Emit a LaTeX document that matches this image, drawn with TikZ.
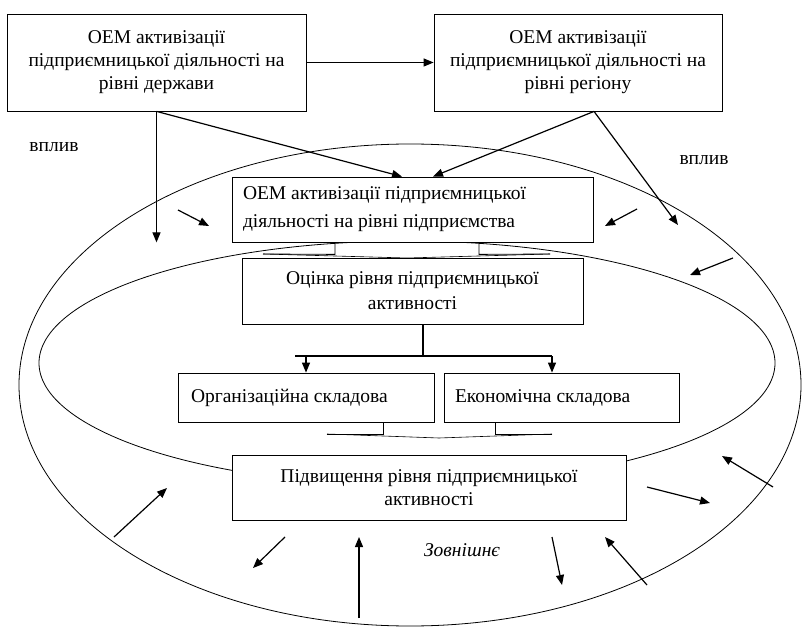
\documentclass[tikz,border=0pt]{standalone}
\usepackage{fontspec}
\setmainfont{Liberation Serif}
\usetikzlibrary{arrows.meta}
\begin{document}
\begin{tikzpicture}[x=1pt,y=-1pt,
  box/.style={draw, line width=0.8pt, fill=white, inner sep=0pt},
  txt/.style={font=\fontsize{19.5}{23}\selectfont},
  arr/.style={line width=1.2pt, -{Triangle[length=10pt,width=8pt]}},
  ln/.style={line width=1.2pt},
  ell/.style={line width=0.8pt},
  brace/.style={line width=0.8pt},
  thinl/.style={line width=0.6pt}]
\useasboundingbox (0,0) rectangle (803,628);
% ellipses
\draw[ell] (410,385) ellipse [x radius=391, y radius=241];
\draw[ell] (407,363) ellipse [x radius=368, y radius=122];
% boxes
\node[box, txt, minimum width=299pt, minimum height=97pt, align=center] (A) at (156.5,62.5)
  {ОЕМ активізації\\підприємницької діяльності на\\рівні держави};
\node[box, txt, minimum width=288pt, minimum height=97pt, align=center] (B) at (578,62.5)
  {ОЕМ активізації\\підприємницької діяльності на\\рівні регіону};
\node[box, font=\fontsize{19.5}{28}\selectfont, minimum width=361pt, minimum height=65pt,
  text width=339pt, align=flush left, inner xsep=11pt] (C) at (412.5,209.5)
  {ОЕМ активізації підприємницької\\діяльності на рівні підприємства};
\node[box, font=\fontsize{19.5}{25}\selectfont, minimum width=341pt, minimum height=66pt, align=center] (D) at (412.5,291)
  {Оцінка рівня підприємницької\\активності};
\node[box, txt, minimum width=256pt, minimum height=49pt, text width=230pt, align=flush left, inner xsep=13pt] (O) at (306,397.5)
  {Організаційна складова};
\node[box, txt, minimum width=235pt, minimum height=49pt, text width=213pt, align=flush left, inner xsep=11pt] (E) at (561.5,397.5)
  {Економічна складова};
\node[box, txt, minimum width=394pt, minimum height=65pt, align=center] (P) at (429,487.5)
  {Підвищення рівня підприємницької\\активності};
% labels
\node[txt] (v1) at (54,147) {вплив};
\node[txt] (v2) at (704,160) {вплив};
\node[font=\fontsize{19.5}{23}\selectfont\itshape] (z) at (462,550) {Зовнішнє};
% top connectors
\draw[arr] (A.east) -- (B.west);
\draw[arr] (A.south) -- ++(0,131);
\draw[arr] (A.south) -- ([xshift=-10.5pt]C.north);
\draw[arr] ([xshift=16pt]B.south) -- ([xshift=20.5pt]C.north);
\draw[arr] ([xshift=16pt]B.south) -- (678,225);
% brace C -> D
\draw[brace] ([xshift=-77.5pt]C.south) -- ++(0,12) -- (263,254);
\draw[brace] ([xshift=66.5pt]C.south) -- ++(0,12) -- (550,254);
\draw[thinl] (263,254) -- (407,258) -- (550,254);
% D -> O,E
\draw[ln] ([xshift=10.5pt]D.south) -- ++(0,32) coordinate (dj);
\draw[ln] (295,356) -- (552,356);
\draw[arr] (306,356) -- (O.north -| 306,0);
\draw[arr] (552,356) -- (E.north -| 552,0);
% brace O,E -> P
\draw[brace] (O.south -| 383,0) -- (383,434) -- (327,434);
\draw[brace] (E.south -| 495,0) -- (495,434) -- (552,434);
\draw[thinl] (327,434) -- (439,438) -- (552,434);
% free arrows
\draw[arr] (178,210) -- (209,226);
\draw[arr] (637,209) -- (605,226);
\draw[arr] (733,258) -- (690,275);
\draw[arr] (114,537) -- (167,488);
\draw[arr] (285,537) -- (253,568);
\draw[arr] (359,618) -- (359,537);
\draw[arr] (552,537) -- (562,585);
\draw[arr] (647,585) -- (605,537);
\draw[arr] (647,487) -- (710,503);
\draw[arr] (773,487) -- (722,456);
\end{tikzpicture}
\end{document}
